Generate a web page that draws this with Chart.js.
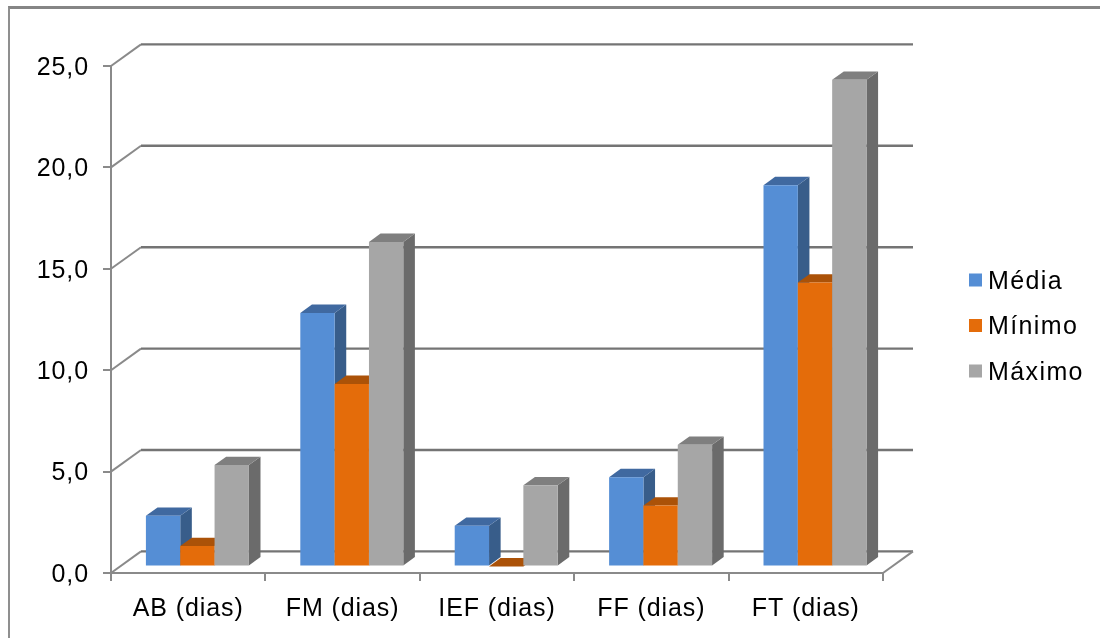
<!DOCTYPE html>
<html>
<head>
<meta charset="utf-8">
<title>Dias</title>
<script src="https://cdn.jsdelivr.net/npm/chart.js@4"></script>
<style>
  html, body { margin: 0; padding: 0; background: #fff; }
  #wrap { position: relative; width: 1100px; height: 638px; overflow: hidden; }
  #frame { position: absolute; left: 8px; top: 6px; right: 0; bottom: 0; border-top: 3px solid #858585; border-left: 2px solid #8f8f8f; }
  canvas { position: absolute; left: 0; top: 0; }
</style>
</head>
<body>
<div id="wrap">
  <div id="frame"></div>
  <canvas id="chart" width="1100" height="638"></canvas>
</div>
<script>
const categories = ['AB (dias)', 'FM (dias)', 'IEF (dias)', 'FF (dias)', 'FT (dias)'];
const media  = [2.5, 12.5, 2, 4.4, 18.8];
const minimo = [1, 9, 0, 3, 14];
const maximo = [5, 16, 4, 6, 24];
const yTickLabels = ['0,0', '5,0', '10,0', '15,0', '20,0', '25,0'];

const FONT = { family: '"Liberation Sans", Arial, sans-serif', size: 25 };
const LINE = '#8a8a8a';
const WALL_LINE = '#747474';

// the wall sits 30/21.6 behind the axes, bars stand inside that depth
const WALL = { dx: 30, dy: 21.6 };
const BAR_SHIFT = { dx: 9.2, dy: 6.6 };
const BAR_DEPTH = { dx: 11.6, dy: 8.3 };

const seriesStyles = [
  { label: 'Média',  front: '#558ed5', top: '#4069a0', side: '#385d8a' },
  { label: 'Mínimo', front: '#e46c0a', top: '#ab5208', side: '#984807' },
  { label: 'Máximo', front: '#a6a6a6', top: '#7f7f7f', side: '#6b6b6b' },
];
const seriesValues = [media, minimo, maximo];

function poly(ctx, color, pts) {
  ctx.fillStyle = color;
  ctx.beginPath();
  pts.forEach(([x, y], i) => (i ? ctx.lineTo(x, y) : ctx.moveTo(x, y)));
  ctx.closePath();
  ctx.fill();
}

const wallPlugin = {
  id: 'wall',
  beforeDraw(chart) {
    chart.ctx.letterSpacing = '0.9px';
  },
  // grid is drawn on the back wall instead of the chart area
  beforeDatasetsDraw(chart) {
    const { ctx, scales: { x, y } } = chart;
    ctx.save();
    ctx.lineWidth = 2;
    y.ticks.forEach(t => {
      const py = y.getPixelForValue(t.value);
      ctx.strokeStyle = LINE;
      ctx.beginPath();
      ctx.moveTo(x.left, py);
      ctx.lineTo(x.left + WALL.dx, py - WALL.dy);
      ctx.stroke();
      ctx.strokeStyle = WALL_LINE;
      ctx.lineWidth = 2.4;
      ctx.beginPath();
      ctx.moveTo(x.left + WALL.dx, py - WALL.dy);
      ctx.lineTo(x.right + WALL.dx, py - WALL.dy);
      ctx.stroke();
      ctx.lineWidth = 2;
    });
    const floor = y.getPixelForValue(0);
    ctx.strokeStyle = LINE;
    ctx.beginPath();
    ctx.moveTo(x.right, floor);
    ctx.lineTo(x.right + WALL.dx, floor - WALL.dy);
    ctx.stroke();
    ctx.restore();

    // left to right so each box covers the side of the one before it
    chart.data.datasets.forEach((ds, i) => {
      const meta = chart.getDatasetMeta(i);
      const st = seriesStyles[i];
      ctx.save();
      ctx.translate(BAR_SHIFT.dx, -BAR_SHIFT.dy);
      meta.data.forEach(bar => {
        const l = bar.x - bar.width / 2, r = bar.x + bar.width / 2;
        const t = bar.y, b = bar.base;
        const dx = BAR_DEPTH.dx, dy = BAR_DEPTH.dy;
        poly(ctx, st.side, [[r, t], [r + dx, t - dy], [r + dx, b - dy], [r, b]]);
        poly(ctx, st.top, [[l, t], [l + dx, t - dy], [r + dx, t - dy], [r, t]]);
      });
      meta.controller.draw();
      ctx.restore();
    });
    return false;
  },
  afterDraw(chart) {
    const { ctx } = chart;
    ctx.save();
    ctx.font = `${FONT.size}px ${FONT.family}`;
    ctx.letterSpacing = '1.4px';
    ctx.textBaseline = 'middle';
    seriesStyles.forEach((st, i) => {
      const cy = 280 + i * 45.5;
      ctx.fillStyle = st.front;
      ctx.fillRect(969, cy - 6.5, 13, 13);
      ctx.fillStyle = '#000';
      ctx.fillText(st.label, 988, cy + 2);
    });
    ctx.restore();
  },
};

new Chart(document.getElementById('chart'), {
  type: 'bar',
  data: {
    labels: categories,
    datasets: seriesStyles.map((st, i) => ({
      label: st.label,
      data: seriesValues[i],
      backgroundColor: st.front,
      borderWidth: 0,
      barPercentage: 1,
      categoryPercentage: 0.667,
    })),
  },
  options: {
    responsive: false,
    animation: false,
    layout: { padding: { left: 0, top: 66, right: 217, bottom: 0 } },
    plugins: { legend: { display: false }, tooltip: { enabled: false } },
    scales: {
      x: {
        afterFit: s => { s.height = 65; },
        grid: { drawOnChartArea: false, color: LINE, lineWidth: 2, tickLength: 8 },
        border: { color: LINE, width: 2 },
        ticks: { color: '#000', font: FONT, padding: 13, maxRotation: 0 },
      },
      y: {
        min: 0,
        max: 25,
        afterFit: s => { s.width = 111; },
        grid: { drawOnChartArea: false, color: LINE, lineWidth: 2, tickLength: 8 },
        border: { color: LINE, width: 2 },
        ticks: {
          stepSize: 5,
          color: '#000',
          font: FONT,
          padding: 14,
          labelOffset: 2,
          callback: (v, i) => yTickLabels[i],
        },
      },
    },
  },
  plugins: [wallPlugin],
});
</script>
</body>
</html>
